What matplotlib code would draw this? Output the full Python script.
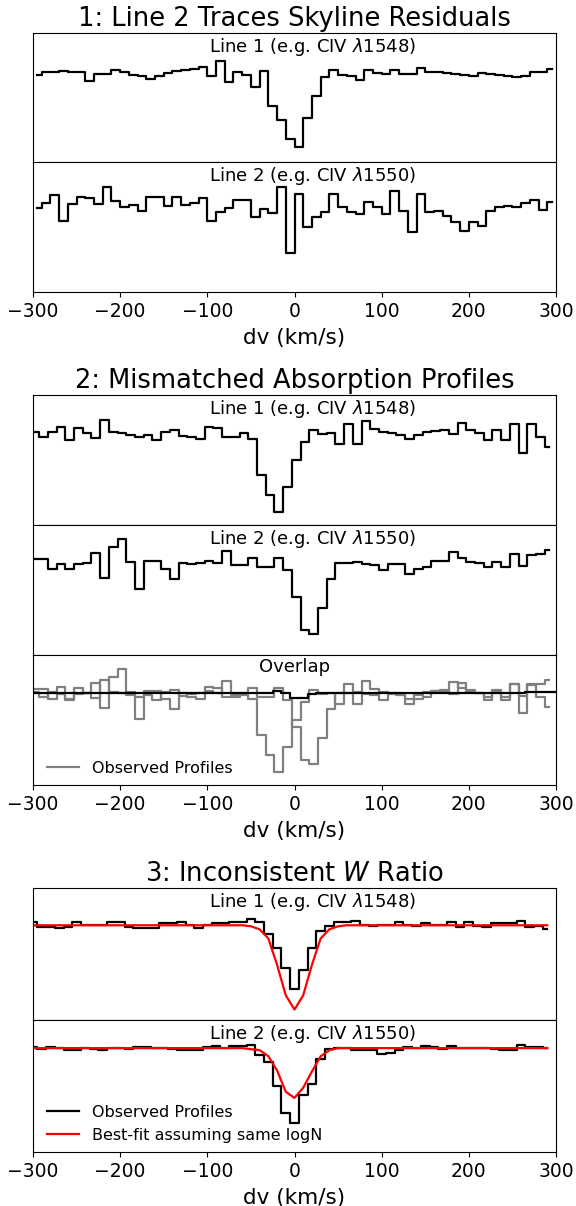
import numpy as np
import matplotlib
matplotlib.use("Agg")
import matplotlib.pyplot as plt

# velocity grids (km/s), bin centres of the observed spectra
v_g1 = np.arange(-295, 300, 10)
v_g2 = np.arange(-298, 300, 10)
v_g3 = np.arange(-300, 300, 10)
v_ovl = np.arange(-300, 301, 10)

# 1: skyline residuals
g1_line1 = [0.98, 1.01, 1.01, 1.02, 1.01, 1.01, 0.92, 0.99, 0.99, 1.04,
            1.01, 0.98, 0.97, 0.94, 0.97, 1.00, 1.02, 1.03, 1.05, 1.07,
            0.97, 1.13, 0.91, 1.01, 0.98, 0.86, 1.02, 0.67, 0.53, 0.34,
            0.26, 0.55, 0.77, 0.96, 1.04, 0.98, 0.97, 0.93, 1.03, 1.00,
            0.99, 1.03, 0.99, 0.99, 1.06, 1.01, 1.01, 1.00, 0.99, 0.98,
            0.97, 1.00, 0.99, 0.98, 0.97, 0.96, 0.97, 1.01, 1.01, 1.05]
g1_line2 = [0.95, 1.00, 1.08, 0.82, 0.99, 1.06, 1.05, 0.99, 1.16, 1.02,
            0.96, 0.98, 0.92, 1.06, 1.06, 0.97, 1.06, 0.98, 1.00, 1.05,
            0.82, 0.91, 0.95, 1.03, 1.03, 0.86, 0.94, 0.90, 1.16, 0.50,
            1.09, 0.76, 0.86, 0.91, 1.09, 0.96, 0.91, 0.89, 1.01, 0.96,
            0.89, 1.12, 0.92, 0.71, 1.09, 0.91, 0.92, 0.87, 0.81, 0.72,
            0.81, 0.77, 0.92, 0.96, 0.97, 0.96, 1.00, 1.03, 0.93, 1.01]

# 2: mismatched profiles
g2_line1 = [1.04, 0.99, 1.04, 1.09, 0.96, 1.08, 1.03, 0.98, 1.16, 1.04,
            1.03, 1.01, 0.99, 1.01, 0.96, 1.04, 1.06, 1.00, 0.99, 0.97,
            1.09, 1.08, 0.99, 0.99, 1.03, 0.97, 0.61, 0.41, 0.24, 0.49,
            0.76, 0.94, 1.06, 1.02, 1.03, 0.92, 1.12, 0.92, 1.15, 1.07,
            1.04, 1.03, 1.01, 0.97, 1.01, 1.04, 1.05, 1.06, 1.02, 1.13,
            1.06, 1.03, 0.96, 1.06, 0.96, 1.12, 0.83, 1.12, 0.99, 0.89]
g2_line2 = [1.07, 1.07, 0.97, 1.02, 0.97, 1.02, 1.03, 1.13, 0.88, 1.19,
            1.27, 1.04, 0.77, 1.05, 1.05, 0.97, 0.87, 1.03, 1.02, 1.03,
            1.05, 1.03, 1.15, 1.01, 1.01, 1.08, 0.99, 0.99, 1.08, 0.96,
            0.69, 0.36, 0.32, 0.58, 0.87, 1.03, 1.03, 1.04, 1.02, 1.01,
            0.96, 1.02, 1.02, 0.92, 0.97, 0.99, 1.05, 1.05, 1.14, 1.08,
            1.04, 1.03, 0.99, 1.04, 0.99, 1.12, 1.00, 1.11, 1.12, 1.16]
g2_overlap = [1.03, 1.03, 1.03, 1.03, 1.03, 1.03, 1.03, 1.03, 1.03, 1.03,
              1.03, 1.03, 1.025, 1.025, 1.025, 1.025, 1.03, 1.03, 1.03, 1.03,
              1.03, 1.03, 1.03, 1.03, 1.03, 1.03, 1.03, 1.03, 1.05, 1.03,
              0.975, 0.975, 1.02, 1.025, 1.03, 1.03, 1.03, 1.03, 1.03, 1.03,
              1.03, 1.03, 1.03, 1.03, 1.03, 1.03, 1.03, 1.03, 1.03, 1.03,
              1.03, 1.03, 1.03, 1.03, 1.03, 1.03, 1.03, 1.035, 1.035, 1.035,
              1.035]

# 3: inconsistent W ratio
g3_line1 = [1.03, 0.98, 0.98, 0.97, 0.98, 1.03, 1.00, 1.00, 1.00, 1.03,
            1.03, 0.98, 0.97, 0.97, 0.97, 1.02, 1.02, 1.03, 1.00, 0.97,
            1.00, 1.02, 1.02, 1.03, 1.03, 1.06, 1.03, 0.91, 0.78, 0.58,
            0.37, 0.56, 0.78, 0.94, 0.99, 1.03, 1.03, 1.04, 1.00, 0.99,
            1.00, 1.00, 1.03, 1.00, 0.99, 1.02, 1.00, 1.00, 1.03, 0.98,
            1.03, 0.99, 0.98, 1.02, 1.02, 1.02, 1.04, 0.98, 0.99, 0.96]
g3_fit1 = [1.00, 1.00, 1.00, 1.00, 1.00, 1.00, 1.00, 1.00, 1.00, 1.00,
           1.00, 1.00, 1.00, 1.00, 1.00, 1.00, 1.00, 1.00, 1.00, 1.00,
           1.00, 1.00, 1.00, 1.00, 1.00, 0.99, 0.96, 0.87, 0.61, 0.31,
           0.17, 0.31, 0.61, 0.87, 0.96, 0.99, 1.00, 1.00, 1.00, 1.00,
           1.00, 1.00, 1.00, 1.00, 1.00, 1.00, 1.00, 1.00, 1.00, 1.00,
           1.00, 1.00, 1.00, 1.00, 1.00, 1.00, 1.00, 1.00, 1.00, 1.00]
g3_line2 = [1.01, 0.99, 1.01, 1.00, 0.98, 0.98, 1.00, 0.99, 0.98, 1.00,
            1.00, 0.99, 1.01, 1.01, 1.00, 1.00, 0.99, 0.98, 0.98, 0.98,
            1.01, 1.02, 1.00, 1.02, 1.02, 1.03, 0.93, 0.86, 0.63, 0.36,
            0.26, 0.54, 0.65, 0.89, 0.99, 1.00, 1.00, 0.98, 0.98, 0.98,
            0.94, 0.95, 0.98, 1.01, 1.00, 1.02, 1.01, 0.99, 1.02, 1.00,
            1.00, 1.00, 1.00, 0.99, 0.98, 0.98, 1.03, 1.01, 1.01, 1.00]
g3_fit2 = [1.00, 1.00, 1.00, 1.00, 1.00, 1.00, 1.00, 1.00, 1.00, 1.00,
           1.00, 1.00, 1.00, 1.00, 1.00, 1.00, 1.00, 1.00, 1.00, 1.00,
           1.00, 1.00, 1.00, 1.00, 1.00, 0.99, 0.98, 0.92, 0.78, 0.57,
           0.51, 0.61, 0.77, 0.92, 0.98, 1.00, 1.00, 1.00, 1.00, 1.00,
           1.00, 1.00, 1.00, 1.00, 1.00, 1.00, 1.00, 1.00, 1.00, 1.00,
           1.00, 1.00, 1.00, 1.00, 1.00, 1.00, 1.00, 1.00, 1.00, 1.00]

label1 = r"Line 1 (e.g. CIV $\lambda$1548)"
label2 = r"Line 2 (e.g. CIV $\lambda$1550)"

W_PX, H_PX = 576, 1206
fig = plt.figure(figsize=(W_PX / 100, H_PX / 100), dpi=100)


def panel(top, bottom, ylim, bottom_axis=False):
    ax = fig.add_axes([33 / W_PX, 1 - bottom / H_PX, 523 / W_PX, (bottom - top) / H_PX])
    ax.set_xlim(-300, 300)
    ax.set_ylim(*ylim)
    ax.set_yticks([])
    ax.set_xticks([-300, -200, -100, 0, 100, 200, 300])
    if bottom_axis:
        ax.tick_params(axis="x", labelsize=13.5)
        ax.set_xlabel("dv (km/s)", fontsize=15.5, labelpad=5)
    else:
        ax.tick_params(axis="x", bottom=False, labelbottom=False)
    return ax


def tag(ax, text):
    ax.text(0.535, 0.975, text, transform=ax.transAxes, ha="center", va="top", fontsize=13)


def legend(ax):
    ax.legend(loc="lower left", bbox_to_anchor=(0.0, -0.04), frameon=False, fontsize=11.5)


ylim12 = (0.11, 1.407)
LW = 1.6

# group 1
ax = panel(33, 162, ylim12)
ax.step(v_g1, g1_line1, where="mid", color="k", lw=LW)
tag(ax, label1)
ax.set_title("1: Line 2 Traces Skyline Residuals", fontsize=18.5, pad=5)
ax = panel(162, 292, ylim12, bottom_axis=True)
ax.step(v_g1, g1_line2, where="mid", color="k", lw=LW)
tag(ax, label2)

# group 2
ax = panel(395, 525, ylim12)
ax.step(v_g2, g2_line1, where="mid", color="k", lw=LW)
tag(ax, label1)
ax.set_title("2: Mismatched Absorption Profiles", fontsize=18.5, pad=5)
ax = panel(525, 655, ylim12)
ax.step(v_g2, g2_line2, where="mid", color="k", lw=LW)
tag(ax, label2)
ax = panel(655, 785, ylim12, bottom_axis=True)
ax.step(v_g2, g2_line1, where="mid", color="gray", lw=LW, label="Observed Profiles")
ax.step(v_g2, g2_line2, where="mid", color="gray", lw=LW)
ax.step(v_ovl, g2_overlap, where="mid", color="k", lw=LW)
ax.text(0.5, 0.975, "Overlap", transform=ax.transAxes, ha="center", va="top", fontsize=13)
legend(ax)

# group 3
ax = panel(888, 1020, (0.067, 1.367))
ax.step(v_g3, g3_line1, where="mid", color="k", lw=LW)
ax.plot(v_g3, g3_fit1, color="r", lw=LW)
tag(ax, label1)
ax.set_title("3: Inconsistent $W$ Ratio", fontsize=18.5, pad=5)
ax = panel(1020, 1152, (-0.023, 1.277), bottom_axis=True)
ax.step(v_g3, g3_line2, where="mid", color="k", lw=LW, label="Observed Profiles")
ax.plot(v_g3, g3_fit2, color="r", lw=LW, label="Best-fit assuming same logN")
tag(ax, label2)
legend(ax)

fig.savefig("out.png", dpi=100)
